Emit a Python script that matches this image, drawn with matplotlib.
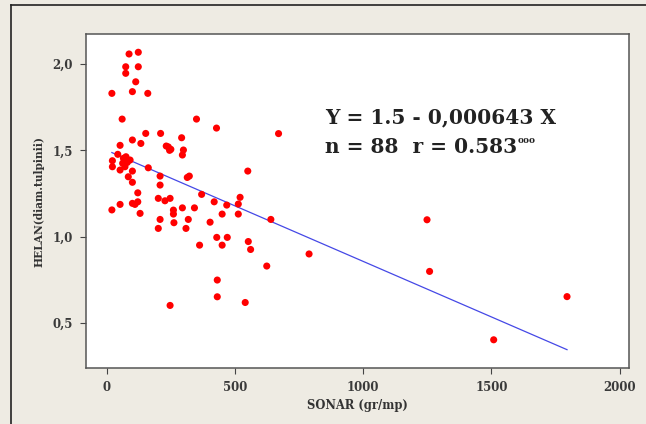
import matplotlib
matplotlib.use("Agg")
import matplotlib.pyplot as plt
import numpy as np
from matplotlib.lines import Line2D

# SONAR (gr/mp) vs HELAN (diam. tulpinii)
sonar = [20, 22, 22, 20, 43, 52, 60, 52, 52, 65,
         75, 62, 91, 71, 80, 100, 84, 100, 162, 121,
         121, 100, 110, 130, 74, 74, 87, 123, 123, 113,
         100, 160, 100, 133, 152, 210, 208, 208, 201, 227,
         247, 208, 201, 240, 250, 245, 232, 260, 260, 262,
         247, 292, 295, 299, 295, 309, 314, 322, 318, 342,
         350, 370, 362, 403, 419, 428, 429, 431, 431, 450,
         450, 468, 470, 513, 513, 520, 540, 550, 552, 561,
         624, 640, 670, 789, 1249, 1259, 1509, 1795]
helan = [1.83, 1.44, 1.405, 1.155, 1.477, 1.529, 1.681, 1.386, 1.187, 1.454,
         1.463, 1.425, 1.444, 1.405, 1.43, 1.38, 1.347, 1.315, 1.399, 1.254,
         1.202, 1.193, 1.187, 1.135, 1.984, 1.946, 2.058, 2.068, 1.984, 1.897,
         1.84, 1.83, 1.56, 1.54, 1.598, 1.598, 1.351, 1.299, 1.222, 1.208,
         1.222, 1.10, 1.048, 1.52, 1.506, 1.50, 1.525, 1.154, 1.131, 1.081,
         0.602, 1.573, 1.473, 1.502, 1.167, 1.048, 1.343, 1.351, 1.10, 1.167,
         1.681, 1.245, 0.951, 1.084, 1.202, 1.629, 0.996, 0.749, 0.652, 1.131,
         0.951, 1.183, 0.996, 1.131, 1.189, 1.228, 0.619, 1.38, 0.972, 0.926,
         0.83, 1.10, 1.597, 0.90, 1.098, 0.799, 0.403, 0.653]

intercept = 1.5
slope = -0.000643

x_ticks = [0, 500, 1000, 1500, 2000]
y_ticks = [0.5, 1.0, 1.5, 2.0]
y_tick_labels = ["0,5", "1,0", "1,5", "2,0"]

bg = "#eeebe3"
serif = "DejaVu Serif"

fig = plt.figure(figsize=(6.46, 4.24), dpi=100, facecolor=bg)
ax = fig.add_axes([0.1327, 0.1314, 0.8407, 0.7877])
ax.set_facecolor("white")

ax.scatter(sonar, helan, s=26, color="#ff0000", edgecolors="none", zorder=3)

xl = np.array([min(sonar), max(sonar)])
ax.plot(xl, intercept + slope * xl, color="#4548e6", lw=0.9, zorder=2)

ax.set_xlim(-82, 2036)
ax.set_ylim(0.238, 2.172)
ax.set_xticks(x_ticks)
ax.set_yticks(y_ticks)
ax.set_yticklabels(y_tick_labels)
ax.tick_params(direction="out", length=4, width=0.8, color="#444444",
               labelsize=8.5, labelcolor="#3a3a3a", pad=5)
for lab in ax.get_xticklabels() + ax.get_yticklabels():
    lab.set_family(serif)
    lab.set_weight("bold")
for sp in ax.spines.values():
    sp.set_color("#555555")
    sp.set_linewidth(1.1)

ax.set_xlabel("SONAR (gr/mp)", family=serif, weight="bold", fontsize=8.3,
              color="#333333", labelpad=4)
ax.set_ylabel("HELAN(diam.tulpinii)", family=serif, weight="bold", fontsize=7.7,
              color="#333333", labelpad=6)

# regression text
t1 = fig.text(325 / 646, 1 - 123 / 424, "Y = 1.5 - 0,000643 X", family=serif,
              weight="bold", fontsize=14.5, color="#222222", va="baseline")
t2 = fig.text(325 / 646, 1 - 153 / 424, "n = 88  r = 0.583", family=serif,
              weight="bold", fontsize=14.5, color="#222222", va="baseline")
fig.canvas.draw()
bb = t2.get_window_extent()
fig.text(bb.x1 / fig.bbox.width + 0.001, (bb.y1 - 6) / fig.bbox.height, "ooo",
         family=serif, weight="bold", fontsize=6.5, color="#222222", va="baseline")

# outer frame
fig.add_artist(Line2D([10.5 / 646, 10.5 / 646], [0, 1 - 4.5 / 424],
                      transform=fig.transFigure, color="#222222", lw=1.2))
fig.add_artist(Line2D([10.5 / 646, 1], [1 - 4.5 / 424, 1 - 4.5 / 424],
                      transform=fig.transFigure, color="#222222", lw=1.2))

fig.savefig("out.png", dpi=100, facecolor=bg)
